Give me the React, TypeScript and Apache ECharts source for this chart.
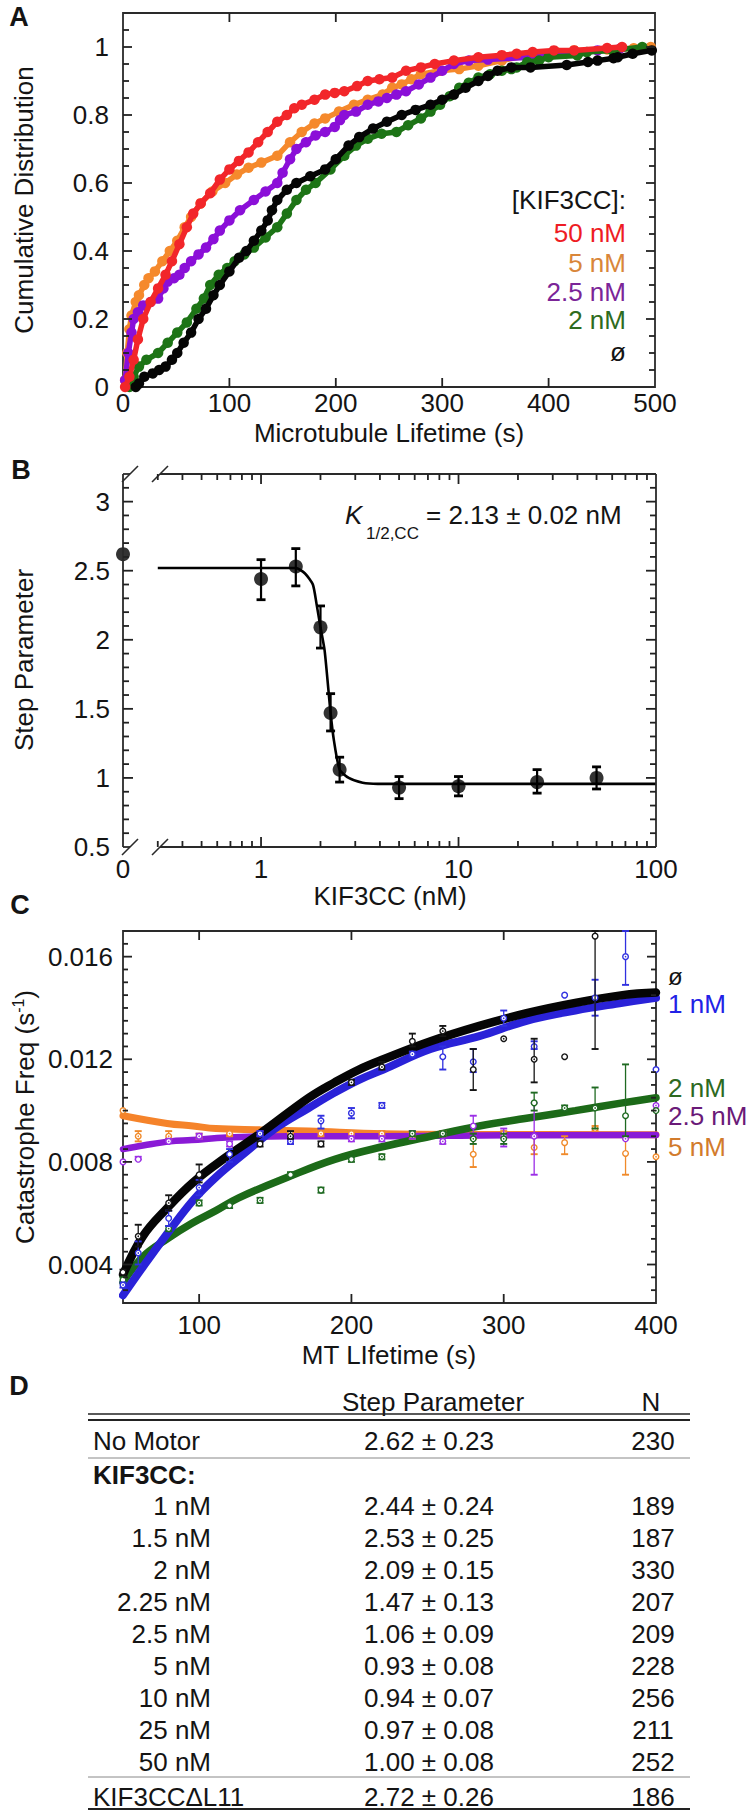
import React, { useEffect, useRef } from 'react';
import * as echarts from 'echarts';

const FONT = '"Liberation Sans", Arial, Helvetica, sans-serif';
const INK = '#141414';
const AXIS = '#2a2a2a';
const TICK = '#222222';
const FS = 26;

// ---------------- Panel A : cumulative distributions (lifetime s, fraction)
const A_50NM = [[2,0],[6,0.03],[10,0.08],[14,0.14],[19,0.2],[26,0.25],[33,0.29],[40,0.33],[46,0.37],[53,0.42],[60,0.47],[66,0.51],[73,0.54],[82,0.57],[91,0.61],[100,0.64],[109,0.665],[118,0.69],[127,0.72],[136,0.75],[145,0.78],[154,0.8],[161,0.82],[168,0.83],[180,0.845],[190,0.86],[199,0.865],[208,0.87],[220,0.885],[230,0.9],[241,0.905],[253,0.91],[266,0.93],[280,0.94],[293,0.95],[311,0.96],[334,0.97],[356,0.976],[370,0.98],[385,0.985],[405,0.99],[424,0.99],[455,0.997],[469,1.0]];
const A_5NM = [[2,0.02],[4,0.1],[6,0.17],[8,0.21],[12,0.25],[15,0.27],[20,0.3],[24,0.32],[30,0.34],[37,0.37],[44,0.4],[51,0.43],[58,0.47],[64,0.5],[73,0.54],[84,0.575],[96,0.6],[107,0.625],[118,0.645],[130,0.66],[145,0.68],[157,0.72],[168,0.75],[180,0.775],[190,0.79],[203,0.81],[217,0.83],[230,0.845],[244,0.86],[253,0.88],[262,0.89],[271,0.905],[280,0.92],[298,0.93],[316,0.935],[334,0.945],[356,0.96],[379,0.975],[407,0.985],[424,0.99],[455,0.993],[480,0.996],[496,1.0]];
const A_2P5NM = [[2,0.02],[5,0.1],[8,0.16],[10,0.2],[14,0.22],[19,0.24],[26,0.25],[33,0.26],[38,0.29],[42,0.31],[48,0.32],[53,0.33],[58,0.35],[64,0.37],[71,0.39],[78,0.41],[85,0.435],[91,0.46],[100,0.49],[110,0.52],[123,0.55],[134,0.575],[145,0.6],[150,0.63],[157,0.67],[163,0.7],[172,0.72],[181,0.74],[190,0.75],[199,0.765],[204,0.785],[208,0.8],[219,0.81],[230,0.83],[240,0.84],[248,0.85],[257,0.86],[266,0.87],[278,0.89],[289,0.91],[300,0.93],[311,0.95],[325,0.96],[343,0.963],[382,0.97],[397,0.978],[403,0.98],[446,0.99],[467,0.995]];
const A_2NM = [[6,0],[10,0.03],[15,0.06],[22,0.08],[33,0.1],[42,0.13],[51,0.16],[60,0.19],[69,0.23],[76,0.26],[82,0.3],[90,0.33],[98,0.35],[105,0.37],[114,0.39],[123,0.41],[134,0.44],[145,0.47],[154,0.51],[163,0.55],[172,0.58],[181,0.6],[195,0.64],[208,0.68],[219,0.71],[230,0.73],[243,0.745],[257,0.75],[268,0.77],[280,0.79],[289,0.81],[298,0.83],[307,0.855],[316,0.88],[325,0.895],[334,0.91],[345,0.92],[356,0.93],[365,0.935],[370,0.94],[380,0.956],[391,0.96],[400,0.97],[427,0.975],[436,0.985],[460,0.99],[488,1.0]];
const A_NONE = [[12,0],[15,0.01],[20,0.03],[28,0.04],[34,0.05],[40,0.06],[46,0.08],[51,0.1],[57,0.13],[64,0.16],[71,0.2],[78,0.23],[85,0.27],[91,0.3],[100,0.34],[109,0.38],[116,0.4],[123,0.43],[130,0.46],[136,0.49],[140,0.52],[145,0.55],[154,0.58],[163,0.6],[176,0.62],[190,0.64],[200,0.67],[212,0.71],[222,0.735],[235,0.76],[248,0.78],[262,0.8],[275,0.815],[289,0.83],[300,0.845],[311,0.86],[322,0.88],[334,0.9],[343,0.915],[352,0.93],[365,0.94],[383,0.94],[417,0.947],[437,0.956],[446,0.96],[461,0.967],[465,0.97],[479,0.98],[497,0.99]];
const A_LEGEND = ['50 nM', '5 nM', '2.5 nM', '2 nM', 'ø'];

// ---------------- Panel B : step parameter vs KIF3CC (nM)
const B_CONC = [0, 1, 1.5, 2, 2.25, 2.5, 5, 10, 25, 50];
const B_STEP = [2.62, 2.44, 2.53, 2.09, 1.47, 1.06, 0.93, 0.94, 0.97, 1.0];
const B_LO = [2.62, 2.29, 2.39, 1.94, 1.34, 0.97, 0.85, 0.87, 0.89, 0.92];
const B_HI = [2.62, 2.58, 2.66, 2.245, 1.61, 1.15, 1.01, 1.01, 1.06, 1.08];
const B_FIT_X = [0.3, 1.0, 1.5, 1.67, 1.83, 1.91, 2.0, 2.1, 2.25, 2.34, 2.5, 2.78, 3.27, 3.9, 10, 100];
const B_FIT_Y = [2.52, 2.52, 2.52, 2.48, 2.4, 2.26, 2.09, 1.92, 1.47, 1.27, 1.06, 1.0, 0.965, 0.957, 0.957, 0.957];
const B_ZERO_AT = 0.2; // where the "0" concentration sits on the broken log axis

// ---------------- Panel C : catastrophe frequency vs MT lifetime  [x, y, lo, hi]
const C_NONE_PTS = [[50,0.0037,0.0036,0.0038],[60,0.0051,0.0047,0.00555],[80,0.0064,0.0061,0.0067],[100,0.0075,0.0072,0.0079],[140,0.0087,0.0086,0.0088],[160,0.009,0.0089,0.0092],[180,0.0087,0.0086,0.0088],[200,0.0111,0.011,0.0112],[220,0.0117,0.0116,0.0119],[240,0.0127,0.0125,0.013],[260,0.0131,0.0129,0.0133],[280,0.0116,0.0108,0.0124],[300,0.0128,0.0128,0.0128],[320,0.012,0.0111,0.0128],[340,0.0121,0.0121,0.0121],[360,0.0168,0.0124,0.017]];
const C_1NM_PTS = [[50,0.0032,0.0031,0.0033],[60,0.00445,0.004,0.0049],[80,0.0058,0.0055,0.0061],[100,0.007,0.0067,0.0073],[120,0.0083,0.008,0.0085],[140,0.0091,0.009,0.0092],[160,0.0088,0.0087,0.009],[180,0.0096,0.0093,0.0098],[200,0.0099,0.0097,0.0101],[220,0.0102,0.0101,0.0103],[240,0.0122,0.0121,0.0123],[260,0.0121,0.0116,0.0125],[280,0.0119,0.0115,0.0124],[300,0.0136,0.0133,0.0139],[320,0.0125,0.0124,0.0127],[340,0.0145,0.0145,0.0145],[360,0.0144,0.0137,0.0151],[380,0.016,0.0149,0.017],[400,0.0116,0.0116,0.0116]];
const C_2NM_PTS = [[50,0.0034,0.0033,0.0035],[80,0.0054,0.0053,0.0055],[100,0.0064,0.0063,0.0065],[120,0.0063,0.0062,0.0064],[140,0.0065,0.0064,0.0066],[160,0.0075,0.0074,0.0076],[180,0.0069,0.0068,0.007],[200,0.0081,0.008,0.0082],[220,0.0082,0.0081,0.0083],[240,0.0091,0.009,0.0092],[260,0.0091,0.009,0.0092],[280,0.0089,0.0087,0.0091],[300,0.0089,0.0087,0.0091],[320,0.0103,0.01,0.0107],[340,0.0101,0.01,0.0102],[360,0.0101,0.0093,0.0109],[380,0.0098,0.009,0.0118],[400,0.01,0.01,0.01]];
const C_2P5NM_PTS = [[50,0.008,0.008,0.008],[60,0.0081,0.0081,0.0082],[80,0.0088,0.0088,0.0089],[100,0.009,0.0089,0.0091],[120,0.0087,0.0086,0.0088],[140,0.0091,0.009,0.0092],[160,0.0088,0.0087,0.0089],[200,0.0089,0.0088,0.009],[220,0.0089,0.0088,0.009],[240,0.0091,0.0089,0.0092],[260,0.0088,0.0087,0.0091],[280,0.0094,0.009,0.0098],[300,0.009,0.0086,0.0093],[320,0.009,0.0075,0.0103],[380,0.0089,0.0089,0.0089],[400,0.0102,0.0102,0.0102]];
const C_5NM_PTS = [[50,0.01,0.01,0.01],[60,0.009,0.0088,0.0092],[80,0.009,0.0089,0.0092],[100,0.009,0.0089,0.0091],[120,0.0091,0.009,0.0091],[160,0.0091,0.009,0.0092],[180,0.0091,0.009,0.0092],[200,0.0091,0.009,0.0092],[220,0.0091,0.009,0.0092],[240,0.009,0.0089,0.0091],[260,0.0091,0.009,0.0092],[280,0.0083,0.0078,0.0089],[300,0.0091,0.009,0.0092],[320,0.00856,0.0083,0.009],[340,0.00875,0.0083,0.009],[360,0.0093,0.0092,0.0094],[380,0.00833,0.0075,0.0089],[400,0.0082,0.0082,0.0082]];
const C_NONE_FIT = [[50,0.0036],[63,0.0051],[79,0.0062],[96,0.0072],[118,0.0082],[140,0.0091],[172,0.0105],[189,0.0111],[205,0.0116],[221,0.012],[252,0.0127],[284,0.0133],[315,0.0138],[347,0.0142],[378,0.0145],[400,0.0146]];
const C_1NM_FIT = [[50,0.0028],[63,0.0039],[79,0.0052],[96,0.0065],[111,0.0074],[129,0.0083],[150,0.0093],[172,0.0101],[189,0.0107],[205,0.0112],[221,0.0116],[252,0.0124],[284,0.0129],[315,0.0135],[347,0.0139],[378,0.0142],[400,0.0144]];
const C_2NM_FIT = [[50,0.0033],[63,0.0043],[79,0.005],[95,0.0056],[111,0.0061],[126,0.0066],[158,0.0074],[189,0.0081],[221,0.0086],[252,0.009],[284,0.0094],[315,0.0097],[347,0.01],[378,0.0103],[400,0.0105]];
const C_2P5NM_FIT = [[50,0.0085],[64,0.00865],[81,0.0088],[95,0.00885],[118,0.00895],[158,0.009],[221,0.009],[284,0.00903],[400,0.00905]];
const C_5NM_FIT = [[50,0.0098],[79,0.0095],[96,0.0094],[111,0.0093],[140,0.00925],[172,0.0092],[221,0.0091],[284,0.00907],[400,0.00906]];
const C_LEGEND = ['ø', '1 nM', '2 nM', '2.5 nM', '5 nM'];

// ---------------- Panel D : table
const T_HEAD = ['Step Parameter', 'N'];
const T_NOMOTOR = ['No Motor', '2.62 ± 0.23', '230'];
const T_CONC = ['1 nM', '1.5 nM', '2 nM', '2.25 nM', '2.5 nM', '5 nM', '10 nM', '25 nM', '50 nM'];
const T_STEP = ['2.44 ± 0.24', '2.53 ± 0.25', '2.09 ± 0.15', '1.47 ± 0.13', '1.06 ± 0.09', '0.93 ± 0.08', '0.94 ± 0.07', '0.97 ± 0.08', '1.00 ± 0.08'];
const T_N = ['189', '187', '330', '207', '209', '228', '256', '211', '252'];
const T_MUTANT = ['KIF3CCΔL11', '2.72 ± 0.26', '186'];

// ---------------- tick positions
const A_X_MAJOR = [100, 200, 300, 400];
const A_Y_MAJOR = [0.2, 0.4, 0.6, 0.8, 1.0];
const B_X_MAJOR = [1, 10];
const B_X_MINOR = [0.3, 0.4, 0.5, 0.6, 0.7, 0.8, 0.9, 2, 3, 4, 5, 6, 7, 8, 9, 20, 30, 40, 50, 60, 70, 80, 90];
const B_Y_MAJOR = [1, 1.5, 2, 2.5, 3];
const C_X_MAJOR = [100, 200, 300];
const C_Y_MAJOR = [0.004, 0.008, 0.012, 0.016];

function steps(from: number, to: number, step: number, skip: number[]): number[] {
  const out: number[] = [];
  const n = Math.round((to - from) / step);
  for (let i = 0; i <= n; i++) {
    const v = +(from + i * step).toFixed(6);
    if (!skip.some((s) => Math.abs(s - v) < 1e-9)) out.push(v);
  }
  return out;
}
const A_Y_MINOR = steps(0.05, 1.05, 0.05, A_Y_MAJOR);
const B_Y_MINOR = steps(0.6, 3.1, 0.1, B_Y_MAJOR);
const C_Y_MINOR = steps(0.003, 0.0165, 0.0005, C_Y_MAJOR);

const NO_MINOR: number[] = [];
const TICK_SPECS = [
  { si: 0, xr: [0, 500], yr: [0, 1.1], xMaj: A_X_MAJOR, xMin: NO_MINOR, yMaj: A_Y_MAJOR, yMin: A_Y_MINOR, maj: 9, min: 6 },
  { si: 5, xr: [B_ZERO_AT, 100], yr: [0.5, 3.2], xMaj: B_X_MAJOR, xMin: B_X_MINOR, yMaj: B_Y_MAJOR, yMin: B_Y_MINOR, maj: 10, min: 6 },
  { si: 8, xr: [50, 400], yr: [0.0025, 0.017], xMaj: C_X_MAJOR, xMin: NO_MINOR, yMaj: C_Y_MAJOR, yMin: C_Y_MINOR, maj: 9, min: 5 },
];

const COL = {
  red: '#f2262a', orange: '#f5892c', purple: '#8b0fd8', green: '#1d7416', black: '#050505',
  blue: '#2a22d8', cOrange: '#f5832a', cPurple: '#8a1ad6', cGreen: '#1c6a18',
};

function errSeries(xi: number, yi: number, data: number[][], color: string, cap: number, lw: number, ring: boolean) {
  return {
    type: 'custom', xAxisIndex: xi, yAxisIndex: yi, silent: true, clip: false, z: 4,
    encode: { x: 0, y: 1 },
    data,
    renderItem: (params: any, api: any) => {
      const x = api.value(0); const y = api.value(1); const lo = api.value(2); const hi = api.value(3);
      const p = api.coord([x, y]); const pl = api.coord([x, lo]); const ph = api.coord([x, hi]);
      const children: any[] = [];
      if (Math.abs(hi - lo) > 1e-9) {
        children.push({ type: 'line', shape: { x1: pl[0], y1: pl[1], x2: ph[0], y2: ph[1] }, style: { stroke: color, lineWidth: lw } });
        children.push({ type: 'line', shape: { x1: pl[0] - cap, y1: pl[1], x2: pl[0] + cap, y2: pl[1] }, style: { stroke: color, lineWidth: lw + 0.6 } });
        children.push({ type: 'line', shape: { x1: ph[0] - cap, y1: ph[1], x2: ph[0] + cap, y2: ph[1] }, style: { stroke: color, lineWidth: lw + 0.6 } });
      }
      if (ring) {
        children.push({ type: 'circle', shape: { cx: p[0], cy: p[1], r: 2.8 }, style: { fill: '#ffffff', stroke: color, lineWidth: 1.4 } });
        children.push({ type: 'circle', shape: { cx: p[0], cy: p[1], r: 0.8 }, style: { fill: color } });
      }
      return { type: 'group', children };
    },
  };
}

function txt(text: string, x: number, y: number, o: any = {}) {
  const size = o.size || FS;
  return {
    type: 'text', x, y, rotation: o.rot || 0, silent: true, z: 20,
    style: {
      text, fill: o.color || INK, fontSize: size, fontFamily: FONT,
      fontWeight: o.weight || 'normal', fontStyle: o.italic ? 'italic' : 'normal',
      lineHeight: o.lh || size,
      align: o.align || 'center', verticalAlign: 'middle',
      textAlign: o.align || 'center', textVerticalAlign: 'middle',
    },
  };
}
function ln(x1: number, y1: number, x2: number, y2: number, w = 1.6, color = AXIS) {
  return { type: 'line', silent: true, z: 20, shape: { x1, y1, x2, y2 }, style: { stroke: color, lineWidth: w } };
}

function buildGraphic(): any[] {
  const legendAColors = ['#ee1c24', '#d9863a', '#7b2598', '#2e6b20', INK];
  const legendAY = [233, 263, 292, 320, 352];
  const legendCColors = [INK, '#2222e6', '#2d6a1f', '#6a1a78', '#d27b2c'];
  const legendCY = [976, 1004, 1088, 1116, 1147];
  const g: any[] = [];
  g.push(txt('A', 19, 17, { weight: 'bold', size: 27 }));
  g.push(txt('B', 21, 470, { weight: 'bold', size: 27 }));
  g.push(txt('C', 20, 905, { weight: 'bold', size: 27 }));
  g.push(txt('D', 19, 1386, { weight: 'bold', size: 27 }));
  g.push(txt('Microtubule Lifetime (s)', 389, 433));
  g.push(txt('Cumulative Distribution', 24, 200, { rot: Math.PI / 2 }));
  g.push(txt('KIF3CC (nM)', 390, 896));
  g.push(txt('Step Parameter', 24, 660, { rot: Math.PI / 2 }));
  g.push(txt('MT LIfetime (s)', 389, 1355));
  g.push({
    type: 'text', x: 25, y: 1117, rotation: Math.PI / 2, silent: true, z: 20,
    style: {
      text: '{a|Catastrophe Freq (s}{s|-1}{a|)}',
      rich: {
        a: { fontSize: FS, fontFamily: FONT, fill: INK, lineHeight: 30 },
        s: { fontSize: 16, fontFamily: FONT, fill: INK, lineHeight: 16, verticalAlign: 'top' },
      },
      align: 'center', verticalAlign: 'middle', textAlign: 'center', textVerticalAlign: 'middle',
    },
  });
  g.push(txt('[KIF3CC]:', 626, 200, { align: 'right', lh: 24 }));
  A_LEGEND.forEach((t, i) => g.push(txt(t, 626, legendAY[i], { align: 'right', color: legendAColors[i], lh: 24 })));
  C_LEGEND.forEach((t, i) => g.push(txt(t, 668, legendCY[i], { align: 'left', color: legendCColors[i], lh: 20, size: i === 0 ? 24 : FS })));
  g.push(txt('K', 345, 515, { align: 'left', italic: true }));
  g.push(txt('1/2,CC', 366, 533, { align: 'left', size: 17 }));
  g.push(txt('= 2.13 ± 0.02 nM', 426, 515, { align: 'left' }));
  // panel B frame with broken x axis
  g.push(ln(123, 474, 123, 847, 1.8));
  g.push(ln(656, 474, 656, 847, 1.8));
  g.push(ln(160, 847, 656, 847, 1.8));
  g.push(ln(160, 474, 656, 474, 1.8));
  g.push(ln(123, 847, 130, 847, 1.8));
  g.push(ln(123, 474, 130, 474, 1.8));
  g.push(ln(122, 855, 138, 839, 1.6));
  g.push(ln(152, 855, 168, 839, 1.6));
  g.push(ln(122, 482, 138, 466, 1.6));
  g.push(ln(152, 482, 168, 466, 1.6));
  // panel D table
  g.push(txt(T_HEAD[0], 433, 1402));
  g.push(txt(T_HEAD[1], 651, 1402));
  g.push(ln(88, 1414, 690, 1414, 1.6, '#222'));
  g.push(ln(88, 1420, 690, 1420, 2, '#222'));
  g.push(txt(T_NOMOTOR[0], 93, 1441, { align: 'left' }));
  g.push(txt(T_NOMOTOR[1], 429, 1441));
  g.push(txt(T_NOMOTOR[2], 653, 1441));
  g.push(ln(88, 1458, 690, 1458, 1, '#888'));
  g.push(txt('KIF3CC:', 93, 1475, { align: 'left', weight: 'bold' }));
  T_CONC.forEach((c, i) => {
    const y = 1506 + i * 32;
    g.push(txt(c, 211, y, { align: 'right' }));
    g.push(txt(T_STEP[i], 429, y));
    g.push(txt(T_N[i], 653, y));
  });
  g.push(ln(88, 1777, 690, 1777, 1, '#888'));
  g.push(txt(T_MUTANT[0], 93, 1797, { align: 'left' }));
  g.push(txt(T_MUTANT[1], 429, 1797));
  g.push(txt(T_MUTANT[2], 653, 1797));
  g.push(ln(88, 1809, 690, 1809, 2, '#222'));
  return g;
}

function buildTicks(chart: any): any[] {
  const out: any[] = [];
  TICK_SPECS.forEach((s) => {
    const px = (x: number, y: number) => {
      try {
        const p = chart.convertToPixel({ seriesIndex: s.si }, [x, y]);
        if (p && isFinite(p[0]) && isFinite(p[1])) return p;
      } catch (e) { /* ignore */ }
      return null;
    };
    const xt = (v: number, len: number) => {
      const a = px(v, s.yr[0]); const b = px(v, s.yr[1]);
      if (!a || !b) return;
      out.push(ln(a[0], a[1], a[0], a[1] - len, 1.8, TICK));
      out.push(ln(b[0], b[1], b[0], b[1] + len, 1.8, TICK));
    };
    const yt = (v: number, len: number) => {
      const a = px(s.xr[0], v); const b = px(s.xr[1], v);
      if (!a || !b) return;
      out.push(ln(a[0], a[1], a[0] + len, a[1], 1.8, TICK));
      out.push(ln(b[0], b[1], b[0] - len, b[1], 1.8, TICK));
    };
    s.xMaj.forEach((v) => xt(v, s.maj));
    s.xMin.forEach((v) => xt(v, s.min));
    s.yMaj.forEach((v) => yt(v, s.maj));
    s.yMin.forEach((v) => yt(v, s.min));
  });
  return out;
}

function buildOption(): any {
  const label = (margin: number, formatter: any) => ({ fontSize: FS, color: INK, fontFamily: FONT, margin, formatter });
  const hidden = { axisLine: { show: false }, axisTick: { show: false }, splitLine: { show: false } };
  const gridBorder = { show: true, borderColor: AXIS, borderWidth: 1.8, backgroundColor: 'rgba(0,0,0,0)' };

  const aSeries = [
    { d: A_5NM, c: COL.orange }, { d: A_2P5NM, c: COL.purple }, { d: A_2NM, c: COL.green },
    { d: A_NONE, c: COL.black }, { d: A_50NM, c: COL.red },
  ].map((s, i) => ({
    type: 'line', xAxisIndex: 0, yAxisIndex: 0, data: s.d, symbol: 'circle', symbolSize: 10.5,
    showSymbol: true, silent: true, z: 2 + i * 0.01,
    lineStyle: { width: 5.5, color: s.c }, itemStyle: { color: s.c, borderWidth: 0 },
  }));

  const bPlot = B_CONC.map((c, i) => [c === 0 ? B_ZERO_AT : c, B_STEP[i], B_LO[i], B_HI[i]]);

  const cFits = [
    { d: C_5NM_FIT, c: COL.cOrange, w: 7 }, { d: C_2P5NM_FIT, c: COL.cPurple, w: 6.5 },
    { d: C_2NM_FIT, c: COL.cGreen, w: 7.5 }, { d: C_1NM_FIT, c: COL.blue, w: 8 }, { d: C_NONE_FIT, c: COL.black, w: 8.5 },
  ].map((s) => ({
    type: 'line', xAxisIndex: 2, yAxisIndex: 2, data: s.d, smooth: 0.4, symbol: 'none', silent: true, z: 2,
    lineStyle: { width: s.w, color: s.c, cap: 'round' },
  }));
  const cPts = [
    errSeries(2, 2, C_5NM_PTS, '#f08a2a', 3.5, 1.3, true),
    errSeries(2, 2, C_2P5NM_PTS, '#9b2ee6', 3.5, 1.3, true),
    errSeries(2, 2, C_2NM_PTS, '#1f6a22', 3.5, 1.3, true),
    errSeries(2, 2, C_1NM_PTS, '#3030e0', 3.5, 1.3, true),
    errSeries(2, 2, C_NONE_PTS, '#151515', 3.5, 1.3, true),
  ];

  return {
    animation: false,
    backgroundColor: '#ffffff',
    textStyle: { fontFamily: FONT },
    grid: [
      { left: 123, top: 13, width: 532, height: 374, ...gridBorder },
      { left: 123, top: 474, width: 533, height: 373, show: false },
      { left: 123, top: 931, width: 533, height: 372, ...gridBorder },
    ],
    xAxis: [
      { gridIndex: 0, type: 'value', min: 0, max: 500, interval: 100, ...hidden, axisLabel: label(3, (v: number) => String(v)) },
      { gridIndex: 1, type: 'log', logBase: 10, min: B_ZERO_AT, max: 100, ...hidden, axisLabel: label(9, (v: number) => (v < 0.5 ? '0' : String(Math.round(v)))) },
      { gridIndex: 2, type: 'value', min: 50, max: 400, minInterval: 100, maxInterval: 100, ...hidden, axisLabel: label(9, (v: number) => (Math.abs(v % 100) < 1e-6 ? String(v) : '')) },
    ],
    yAxis: [
      { gridIndex: 0, type: 'value', min: 0, max: 1.1, interval: 0.2, ...hidden, axisLabel: label(14, (v: number) => (v > 1.01 ? '' : String(Math.round(v * 10) / 10))) },
      { gridIndex: 1, type: 'value', min: 0.5, max: 3.2, interval: 0.5, ...hidden, axisLabel: label(13, (v: number) => (v > 3.05 ? '' : String(Math.round(v * 10) / 10))) },
      { gridIndex: 2, type: 'value', min: 0.0025, max: 0.017, minInterval: 0.004, maxInterval: 0.004, ...hidden,
        axisLabel: label(10, (v: number) => { const k = Math.round(v / 0.004); return k >= 1 && k <= 4 && Math.abs(v / 0.004 - k) < 1e-6 ? (k * 0.004).toFixed(3) : ''; }) },
    ],
    series: [
      ...aSeries,
      {
        type: 'line', xAxisIndex: 1, yAxisIndex: 1, data: B_FIT_X.map((x, i) => [x, B_FIT_Y[i]]),
        smooth: 0.2, symbol: 'none', silent: true, z: 2, lineStyle: { width: 2.6, color: '#000' },
      },
      errSeries(1, 1, bPlot, '#000', 4.5, 2.2, false),
      {
        type: 'scatter', xAxisIndex: 1, yAxisIndex: 1, data: bPlot.map((p) => [p[0], p[1]]),
        symbol: 'circle', symbolSize: 14, silent: true, z: 6, itemStyle: { color: '#000' },
      },
      ...cFits,
      ...cPts,
    ],
    graphic: { elements: buildGraphic() },
  };
}

export default function App() {
  const ref = useRef<HTMLDivElement>(null);
  useEffect(() => {
    if (!ref.current) return;
    const chart = echarts.init(ref.current, null, { renderer: 'svg' });
    chart.setOption(buildOption());
    let ticks: any[] = [];
    try { ticks = buildTicks(chart); } catch (e) { ticks = []; }
    if (ticks.length) chart.setOption({ graphic: { elements: [...buildGraphic(), ...ticks] } });
    return () => chart.dispose();
  }, []);
  return <div ref={ref} style={{ position: 'absolute', left: 0, top: 0, width: 749, height: 1811, background: '#fff' }} />;
}
